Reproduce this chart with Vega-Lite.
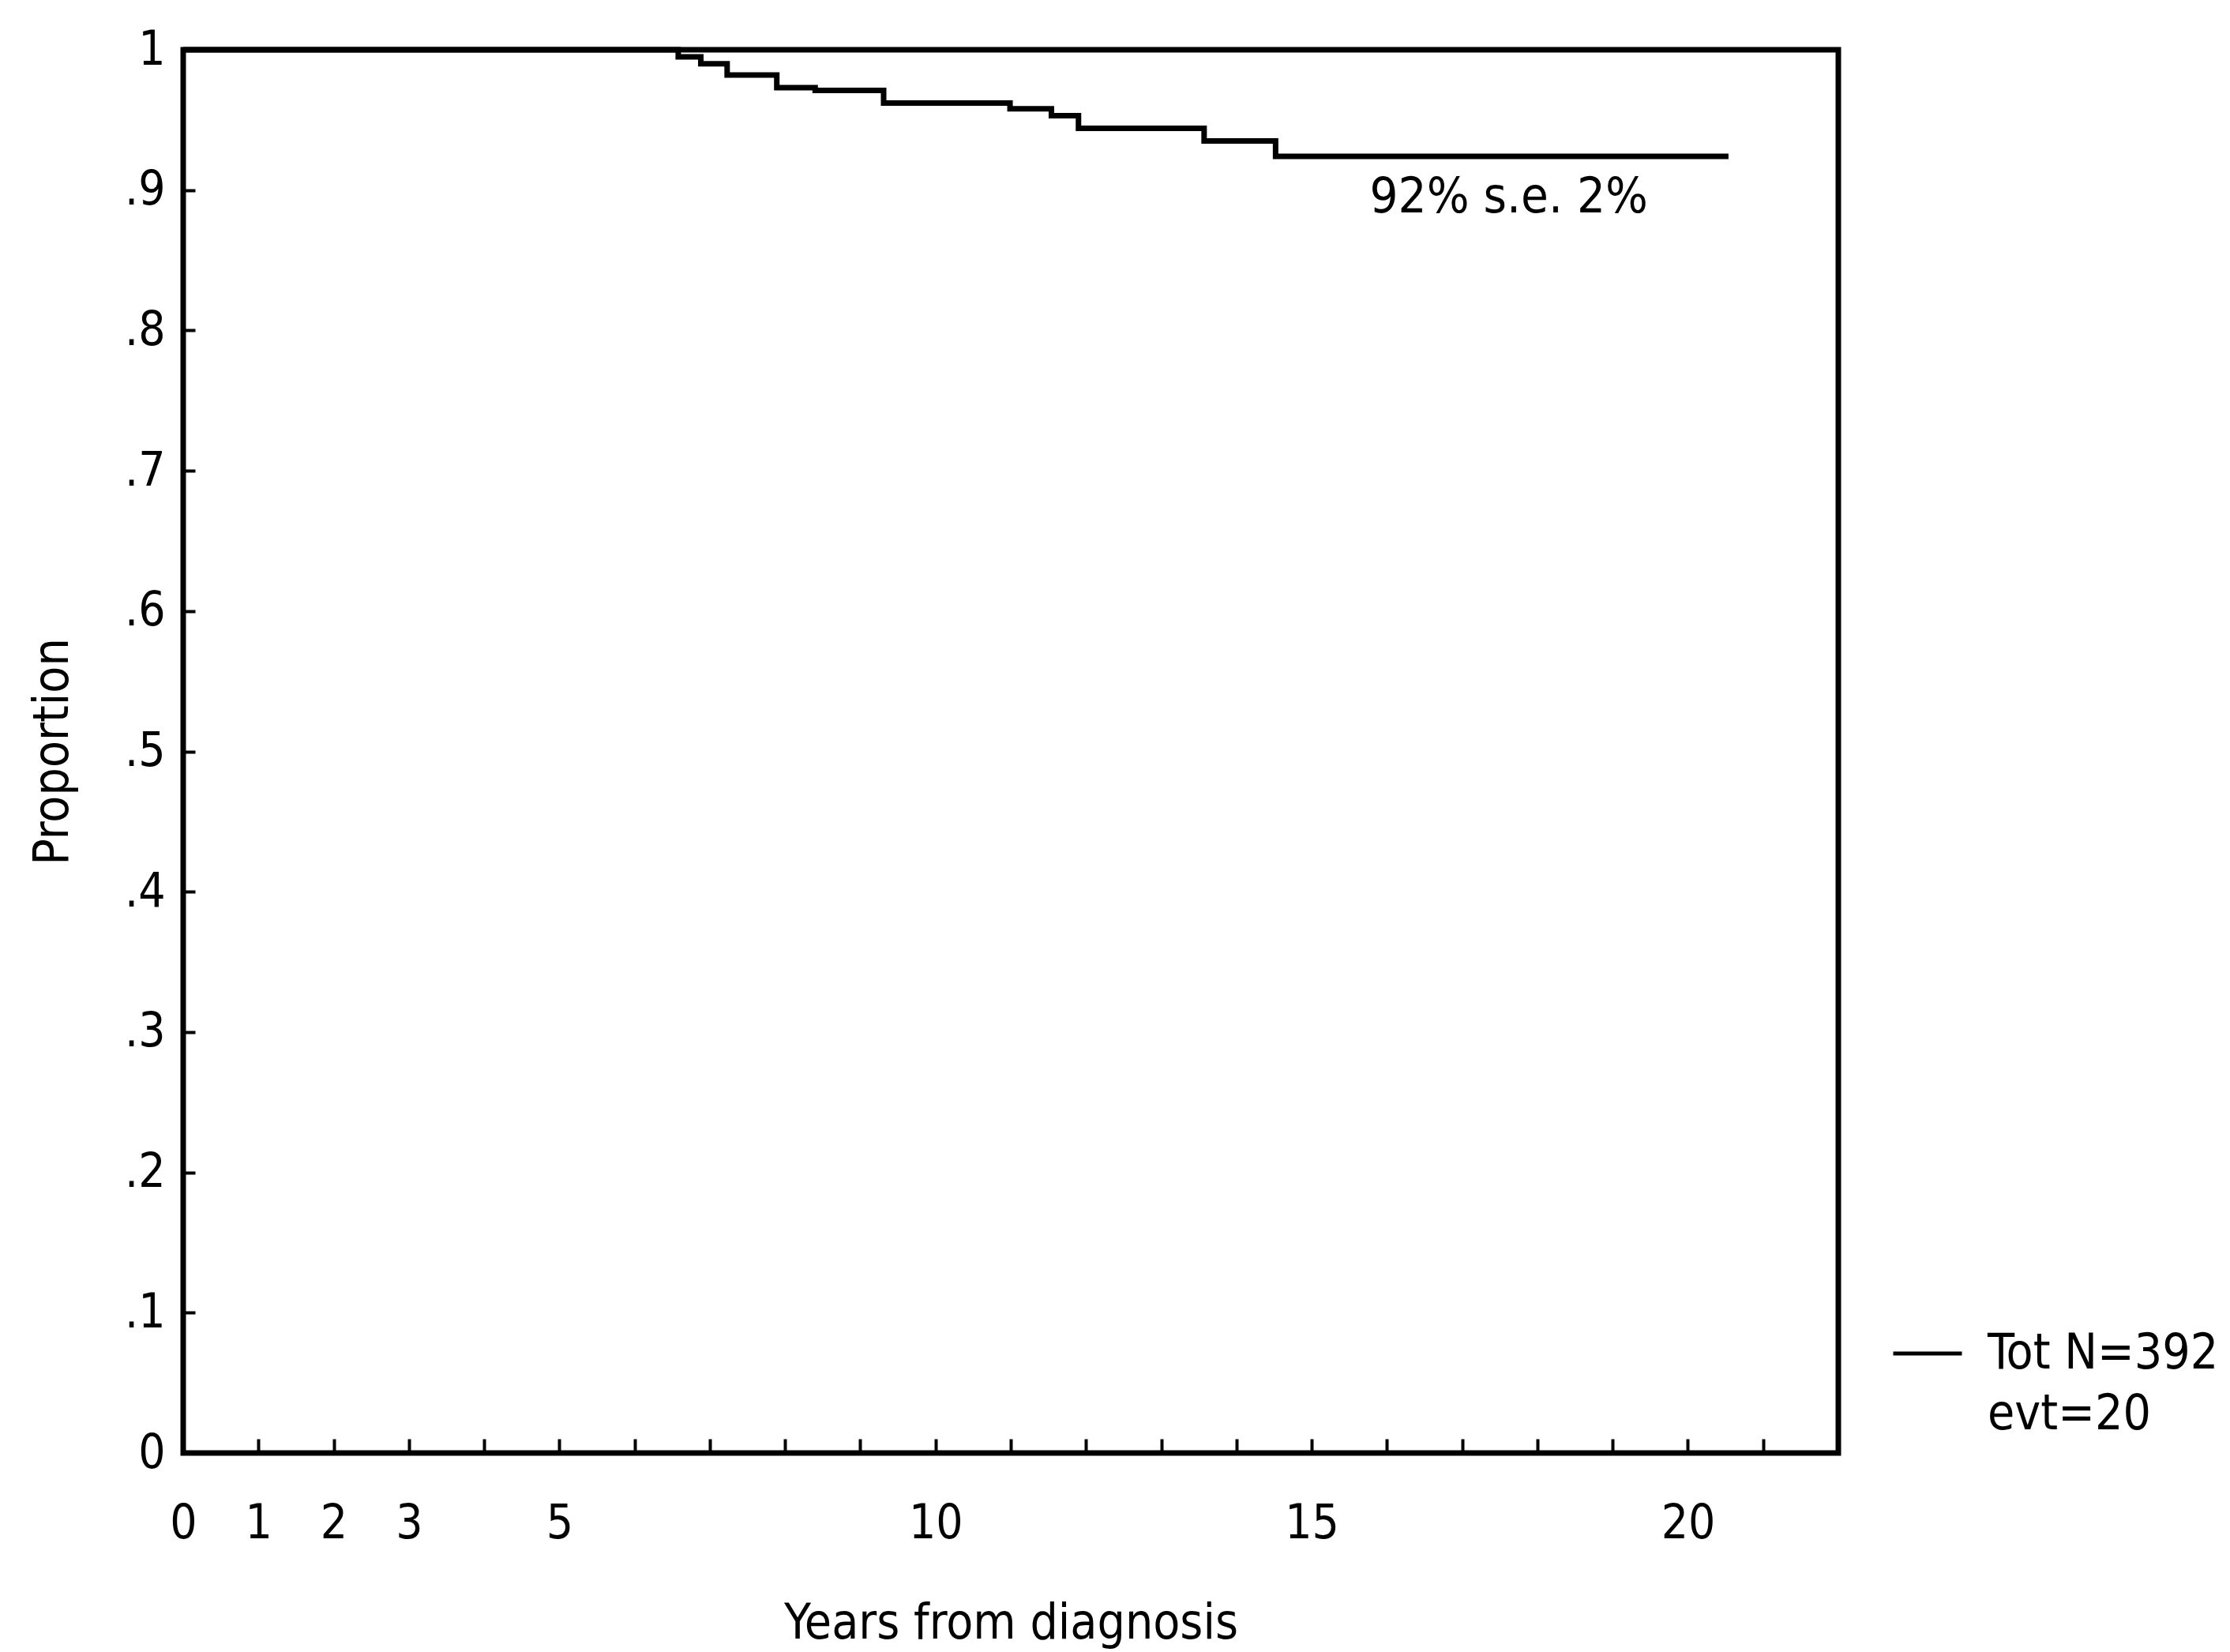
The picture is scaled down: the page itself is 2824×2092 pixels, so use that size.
{
  "$schema": "https://vega.github.io/schema/vega-lite/v6.json",
  "width": 2096,
  "height": 1777,
  "autosize": {"type": "none"},
  "padding": {"left": 232, "top": 63, "right": 496, "bottom": 252},
  "background": "white",
  "config": {
    "view": {"stroke": "black", "strokeWidth": 7},
    "font": "DejaVu Sans Condensed, DejaVu Sans",
    "axis": {
      "domain": false,
      "grid": false,
      "labelColor": "black",
      "tickColor": "black",
      "tickWidth": 4,
      "titleColor": "black",
      "titleFontWeight": "normal",
      "labelFont": "DejaVu Sans Condensed, DejaVu Sans",
      "titleFont": "DejaVu Sans Condensed, DejaVu Sans"
    }
  },
  "datasets": {
    "km": [
      {"year": 0, "survival": 1, "series": "Tot N=392"},
      {"year": 6.58, "survival": 0.995, "series": "Tot N=392"},
      {"year": 6.88, "survival": 0.990, "series": "Tot N=392"},
      {"year": 7.23, "survival": 0.982, "series": "Tot N=392"},
      {"year": 7.89, "survival": 0.973, "series": "Tot N=392"},
      {"year": 8.40, "survival": 0.971, "series": "Tot N=392"},
      {"year": 9.31, "survival": 0.962, "series": "Tot N=392"},
      {"year": 10.99, "survival": 0.958, "series": "Tot N=392"},
      {"year": 11.54, "survival": 0.953, "series": "Tot N=392"},
      {"year": 11.90, "survival": 0.944, "series": "Tot N=392"},
      {"year": 13.57, "survival": 0.935, "series": "Tot N=392"},
      {"year": 14.52, "survival": 0.924, "series": "Tot N=392"},
      {"year": 20.54, "survival": 0.924, "series": "Tot N=392"}
    ],
    "note": [
      {"year": 17.62, "survival": 0.884, "text": "92% s.e. 2%"}
    ]
  },
  "layer": [
    {
      "data": {"name": "km"},
      "mark": {"type": "line", "interpolate": "step-after", "strokeWidth": 7, "clip": false},
      "encoding": {
        "x": {
          "field": "year",
          "type": "quantitative",
          "scale": {"domain": [0, 22], "nice": false, "zero": false},
          "axis": {
            "title": "Years from diagnosis",
            "values": [0,1,2,3,4,5,6,7,8,9,10,11,12,13,14,15,16,17,18,19,20,21,22],
            "labelExpr": "indexof([0,1,2,3,5,10,15,20], datum.value) >= 0 ? format(datum.value, 'd') : ''",
            "tickSize": -18,
            "labelFontSize": 60,
            "labelPadding": 78,
            "labelFlush": false,
            "labelOverlap": false,
            "labelBound": false,
            "titleFontSize": 62,
            "titleY": 234,
            "titleBaseline": "alphabetic"
          }
        },
        "y": {
          "field": "survival",
          "type": "quantitative",
          "scale": {"domain": [0, 1], "nice": false},
          "axis": {
            "title": "Proportion",
            "values": [0,0.1,0.2,0.3,0.4,0.5,0.6,0.7,0.8,0.9,1],
            "labelExpr": "datum.value == 0 ? '0' : datum.value == 1 ? '1' : replace(format(datum.value, '.1f'), '0.', '.')",
            "tickSize": -15,
            "labelFontSize": 60,
            "labelPadding": 38,
            "labelFlush": false,
            "labelOverlap": false,
            "titleFontSize": 62,
            "titleX": -147,
            "titleBaseline": "alphabetic"
          }
        },
        "color": {
          "field": "series",
          "type": "nominal",
          "scale": {"domain": ["Tot N=392", "evt=20"], "range": ["black", "black"]},
          "legend": {
            "orient": "none",
            "legendX": 2163,
            "legendY": 1605,
            "title": null,
            "symbolType": "stroke",
            "symbolSize": 7569,
            "symbolStrokeWidth": 5,
            "labelFontSize": 62,
            "labelFont": "DejaVu Sans Condensed, DejaVu Sans",
            "labelColor": "black",
            "labelOffset": 30,
            "labelLimit": 0,
            "padding": 0,
            "rowPadding": 0,
            "encode": {
              "symbols": {
                "update": {
                  "opacity": {"signal": "datum.value === 'evt=20' ? 0 : 1"}
                }
              }
            }
          }
        }
      }
    },
    {
      "data": {"name": "note"},
      "mark": {"type": "text", "fontSize": 63, "align": "center", "baseline": "alphabetic", "color": "black", "font": "DejaVu Sans Condensed, DejaVu Sans"},
      "encoding": {
        "x": {"field": "year", "type": "quantitative"},
        "y": {"field": "survival", "type": "quantitative"},
        "text": {"field": "text"}
      }
    }
  ]
}
